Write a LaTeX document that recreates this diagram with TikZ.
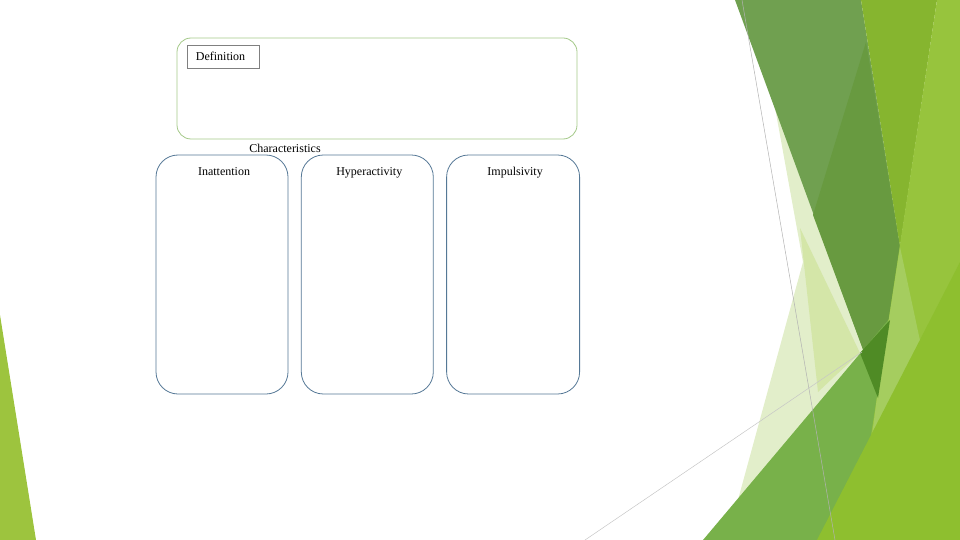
\documentclass[tikz,border=0pt]{standalone}
\usepackage{fontspec}
\setmainfont{Liberation Serif}
\usetikzlibrary{positioning}
\definecolor{limeleft}{HTML}{9DC43E}
\definecolor{paleA}{HTML}{E2EECA}
\definecolor{paleB}{HTML}{D4E6A8}
\definecolor{darkband}{HTML}{70A050}
\definecolor{darkerband}{HTML}{689A40}
\definecolor{midlime}{HTML}{86B52F}
\definecolor{grassg}{HTML}{78B14A}
\definecolor{deepg}{HTML}{4F8B25}
\definecolor{lightlime}{HTML}{A5CD5F}
\definecolor{striplime}{HTML}{97C43D}
\definecolor{bottomlime}{HTML}{8EBF2F}
\definecolor{panelgreen}{HTML}{A3C888}
\definecolor{colblue}{HTML}{557896}

\begin{document}
\begin{tikzpicture}[x=1pt,y=-1pt,
      every node/.style={font=\fontsize{12}{14}\selectfont},
      panel/.style={draw=panelgreen,line width=0.8pt,rounded corners=14pt,
        minimum width=400pt,minimum height=101pt},
      tag/.style={draw=gray,line width=0.6pt,text width=54pt,align=left,
        inner xsep=9pt,inner ysep=0pt,minimum height=23pt},
      col/.style={draw=colblue,line width=0.8pt,rounded corners=22pt,fill=white,
        minimum width=132pt,minimum height=239pt},
      head/.style={inner sep=0pt,text height=8.5pt,text depth=2.5pt}]
  \useasboundingbox (0,0) rectangle (960,540);
  % background facets
  \fill[limeleft] (0,315) -- (36,540) -- (0,540) -- cycle;
  \fill[paleA] (770,80) -- (803,262) -- (727,540) -- (800,540) -- (900,300) -- (800,60) -- cycle;
  \fill[paleB] (800,228) -- (860,353) -- (835,376) -- (818,392) -- cycle;
  \fill[darkband] (735,0) -- (861,0) -- (903,265) -- (878,390) -- cycle;
  \fill[darkerband] (866,42) -- (813,215) -- (878,390) -- (903,265) -- cycle;
  \fill[midlime] (861,0) -- (937,0) -- (900,247) -- cycle;
  \fill[grassg] (703,540) -- (895,312) -- (885,470) -- (830,540) -- cycle;
  \fill[striplime] (937,0) -- (960,0) -- (960,540) -- (855,540) -- (878,390) -- cycle;
  \fill[lightlime] (900,247) -- (922,350) -- (872,435) -- (878,390) -- cycle;
  \fill[deepg] (860,353) -- (890,320) -- (878,398) -- cycle;
  \fill[bottomlime] (817,540) -- (960,262) -- (960,540) -- cycle;
  \draw[gray!60,line width=0.5pt] (742,0) -- (835,540);
  \draw[gray!45,line width=0.5pt] (585,540) -- (862,352);
  % definition
  \node[panel] (def) at (377,88.5) {};
  \node[tag] (deftag) [below right=7pt and 10pt of def.north west] {Definition};
  % characteristics
  \node (chars) at (285,148.5) {Characteristics};
  \node[col] (c0) at (222,274.5) {};
  \node[col] (c1) [right=12.5pt of c0] {};
  \node[col,minimum width=133pt] (c2) [right=12.5pt of c1] {};
  \node[head] (h0) [below=12.5pt of c0.north,xshift=2pt] {Inattention};
  \node[head] (h1) [below=12.5pt of c1.north,xshift=2pt] {Hyperactivity};
  \node[head] (h2) [below=12.5pt of c2.north,xshift=2pt] {Impulsivity};
\end{tikzpicture}
\end{document}
